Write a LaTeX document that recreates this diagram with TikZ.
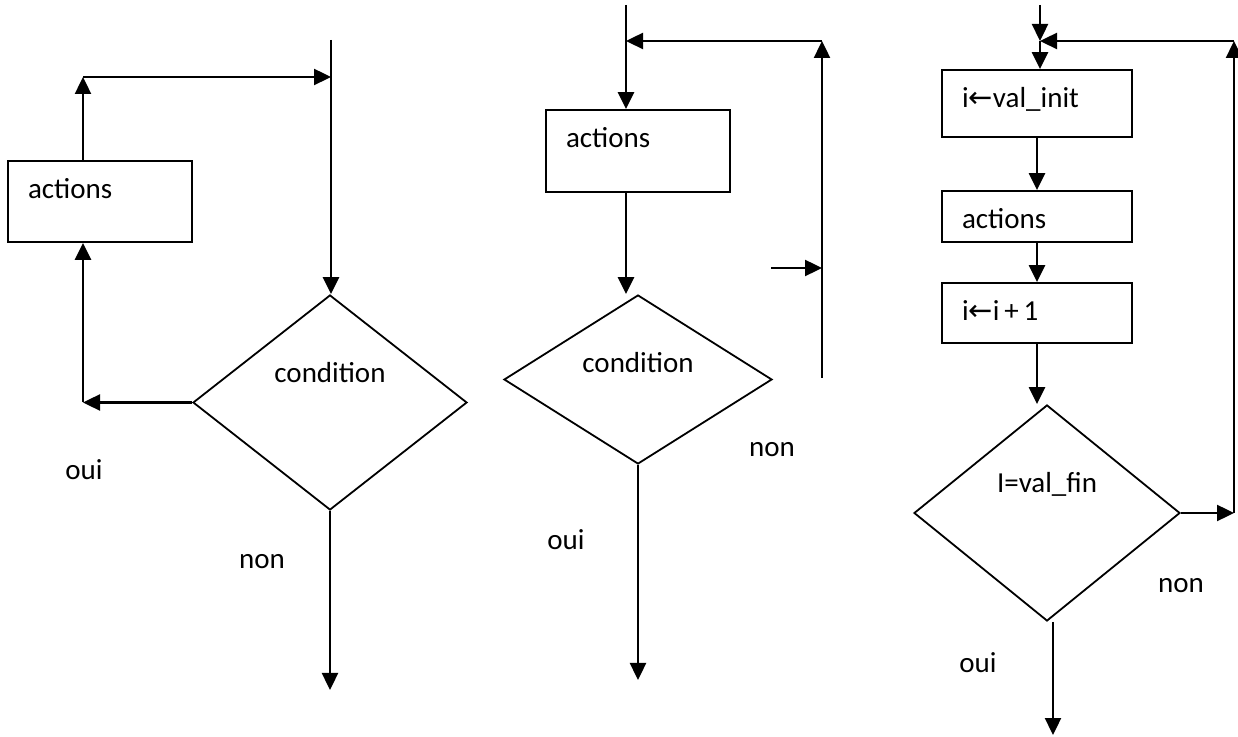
\documentclass[tikz,border=0pt]{standalone}
\usepackage{fontspec}
\setmainfont{Carlito}
\newfontfamily\arrowfont{DejaVu Sans}
\usetikzlibrary{shapes.geometric,arrows.meta}

\begin{document}
\begin{tikzpicture}[x=0.5pt,y=-0.5pt,
    font=\fontsize{14.5}{17}\selectfont,
    flow/.style={line width=1.2pt,-{Triangle[length=8.5pt,width=8pt]}},
    box/.style={draw,line width=0.9pt,rectangle,inner xsep=10pt,inner ysep=0pt,align=left,text height=19pt},
    decision/.style={draw,line width=0.9pt,diamond,inner sep=0pt}]
    \useasboundingbox (0,0) rectangle (1238,737);
    % first loop
    \node[box,text width=72pt,text depth=21.5pt] (A1) at (100,201.5) {actions};
    \node[decision,minimum width=137pt,minimum height=107.5pt,label={[name=C1t,yshift=14.75pt]center:condition}] (C1) at (330,402.5) {};
    \coordinate (T1) at (331,40);
    \coordinate (U1) at (83,77);
    \coordinate (V1) at (331,77);
    \coordinate (W1) at (83,402.5);
    \coordinate (E1) at (330,690);
    \draw[flow] (T1) -- (T1 |- C1.north);
    \draw[flow] (U1 |- A1.north) -- (U1);
    \draw[flow] (U1) -- (V1);
    \draw[flow] (C1.west) -- (W1);
    \draw[flow] (W1) -- (W1 |- A1.south);
    \draw[flow] (C1.south) -- (E1);
    \node (Y1) at (84,470) {oui};
    \node (N1) at (262,562) {non};
    % second loop
    \node[box,text width=72pt,text depth=22pt] (A2) at (638,151) {actions};
    \node[decision,minimum width=134pt,minimum height=84.5pt,label={[name=C2t,yshift=8.5pt]center:condition}] (C2) at (638,379.5) {};
    \coordinate (T2) at (626,5);
    \coordinate (U2) at (626,41);
    \coordinate (V2) at (822,41);
    \coordinate (W2) at (822,378);
    \coordinate (S2) at (771,268);
    \coordinate (R2) at (822,268);
    \coordinate (E2) at (638,680);
    \draw[flow] (T2) -- (T2 |- A2.north);
    \draw[flow] (W2) -- (V2);
    \draw[flow] (V2) -- (U2);
    \draw[flow] (T2 |- A2.south) -- (T2 |- C2.north);
    \draw[flow] (S2) -- (R2);
    \draw[flow] (C2.south) -- (E2);
    \node (N2) at (772,450) {non};
    \node (Y2) at (566,540) {oui};
    % third loop
    \node[box,text width=75pt,text depth=14.5pt] (B1) at (1037,103.5) {i{\arrowfont ←}val\_init};
    \node[box,text width=75pt,text depth=6.5pt] (B2) at (1037,216.5) {actions};
    \node[box,text width=75pt,text depth=11pt] (B3) at (1037,313) {i{\arrowfont ←}i\,+\,1};
    \node[decision,minimum width=133pt,minimum height=108pt,label={[name=C3t,yshift=14.5pt]center:I=val\_fin}] (C3) at (1047,513) {};
    \coordinate (T3) at (1040,5);
    \coordinate (U3) at (1040,41);
    \coordinate (V3) at (1234,41);
    \coordinate (W3) at (1234,513);
    \coordinate (E3) at (1053,735);
    \draw[flow] (T3) -- (U3);
    \draw[flow] (U3) -- (U3 |- B1.north);
    \draw[flow] (W3) -- (V3);
    \draw[flow] (V3) -- (U3);
    \draw[flow] (B1) -- (B2);
    \draw[flow] (B2) -- (B3);
    \draw[flow] (B3.south) -- (B3.south |- C3.north);
    \draw[flow] (C3.east) -- (W3);
    \draw[flow] (E3 |- C3.south) -- (E3);
    \node (N3) at (1181,586) {non};
    \node (Y3) at (978,663) {oui};
\end{tikzpicture}
\end{document}
